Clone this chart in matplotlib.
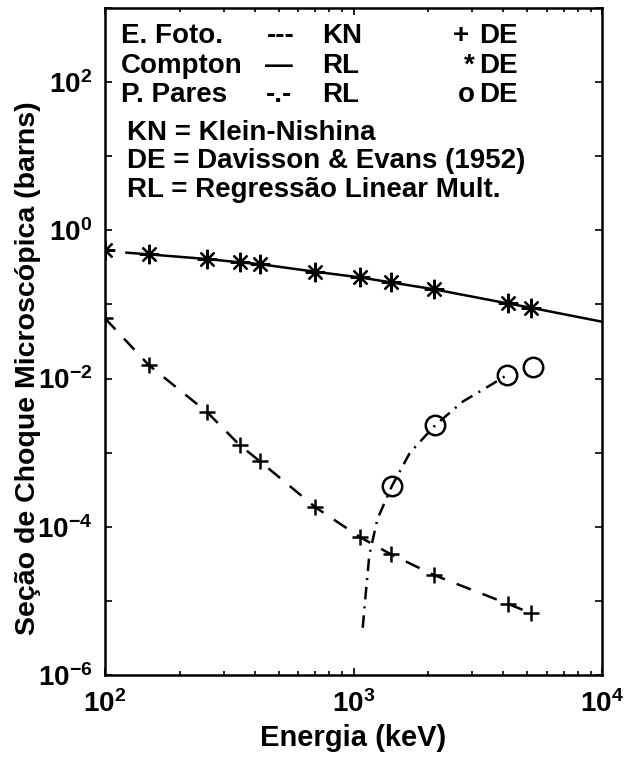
import numpy as np
import matplotlib
matplotlib.use('Agg')
import matplotlib.pyplot as plt
from matplotlib.ticker import FixedLocator, FuncFormatter, LogLocator, NullFormatter

plt.rcParams['font.family'] = ['Liberation Sans', 'DejaVu Sans']
plt.rcParams['font.weight'] = 'bold'
plt.rcParams['mathtext.fontset'] = 'custom'
plt.rcParams['mathtext.rm'] = 'Liberation Sans:bold'
plt.rcParams['mathtext.bf'] = 'Liberation Sans:bold'
plt.rcParams['lines.scale_dashes'] = False

#-----------------------------------------------------------------------------
# Data (energy in keV, cross section in barns)
E_compton = [100, 150, 258, 348, 419, 703, 1059, 1409, 2109, 4188, 5200]
s_compton = [0.54, 0.474, 0.41, 0.37, 0.35, 0.276, 0.232, 0.199, 0.16, 0.103, 0.090]
E_compton_rl = [122, 150, 258, 348, 419, 703, 1059, 1409, 2109, 4188, 5200, 10000]
s_compton_rl = [0.50, 0.474, 0.41, 0.37, 0.35, 0.276, 0.232, 0.199, 0.16, 0.103, 0.090, 0.0585]

E_foto = [100, 150, 258, 348, 419, 703, 1059, 1409, 2109, 4188, 5200]
s_foto = [0.065, 0.0152, 3.5e-3, 1.27e-3, 7.7e-4, 1.83e-4, 7.3e-5, 4.28e-5, 2.23e-5, 9.1e-6, 6.8e-6]

E_pares = [1427, 2133, 4140, 5260]
s_pares = [3.54e-4, 2.35e-3, 0.0111, 0.0144]
E_pares_rl = [1089, 1122, 1158, 1248, 1427, 1687, 2133, 2748, 3654, 4140]
s_pares_rl = [4.34e-6, 1.33e-5, 4.15e-5, 1.27e-4, 3.54e-4, 1.0e-3, 2.35e-3, 4.87e-3, 8.6e-3, 0.0111]
#-----------------------------------------------------------------------------

fig = plt.figure(figsize=(6.44, 7.58), dpi=100)
ax = fig.add_axes([105/644, 83/758, 497/644, 667/758])

ax.plot(E_compton_rl, s_compton_rl, 'k-', lw=1.8)
ax.plot(E_compton, s_compton, 'k', ls='none', marker=(8, 2, 0), ms=14, mew=1.6)

ax.plot(E_foto, s_foto, 'k', lw=1.8, dashes=(11, 9))
ax.plot(E_foto, s_foto, 'k+', ms=12, mew=1.8)

ax.plot(E_pares_rl, s_pares_rl, 'k', lw=1.8, dashes=(9, 5, 1.5, 5))
ax.plot(E_pares, s_pares, 'ko', mfc='none', ms=14, mew=1.8)

ax.set_xscale('log')
ax.set_yscale('log')
ax.set_xlim(1e2, 1e4)
ax.set_ylim(1e-6, 1e3)

ax.yaxis.set_major_locator(FixedLocator([10.0**k for k in range(-6, 4)]))
def ylab(v, pos):
    k = int(round(np.log10(v)))
    if k % 2 == 0 and k < 3:
        return r'$\mathdefault{10^{%d}}$' % k
    return ''
ax.yaxis.set_major_formatter(FuncFormatter(ylab))
ax.yaxis.set_minor_locator(FixedLocator([]))
ax.xaxis.set_minor_locator(LogLocator(base=10, subs=np.arange(2, 10)))
ax.xaxis.set_minor_formatter(NullFormatter())

ax.tick_params('both', which='major', length=5, width=1.2, direction='in', top=True, right=True, labelsize=20, pad=9)
ax.tick_params('x', which='major', pad=11)
ax.tick_params('both', which='minor', length=3, width=1.2, direction='in', top=True, right=True)
for s in ax.spines.values():
    s.set_linewidth(1.8)

ax.set_xlabel('Energia (keV)', fontsize=21, fontweight='bold', labelpad=4)
ax.set_ylabel('Seção de Choque Microscópica (barns)', fontsize=20.5, fontweight='bold', labelpad=-3)
ax.yaxis.label.set_y(0.46)

fs = 20
tr = ax.transAxes
rows = [0.9475, 0.9025, 0.859]
ax.text(0.032, rows[0], 'E. Foto.', transform=tr, fontsize=fs, va='baseline')
ax.text(0.326, rows[0], '---', transform=tr, fontsize=fs, va='baseline')
ax.text(0.437, rows[0], 'KN', transform=tr, fontsize=fs, va='baseline')
ax.text(0.700, rows[0], '+', transform=tr, fontsize=fs, va='baseline')
ax.text(0.753, rows[0], 'DE', transform=tr, fontsize=fs, va='baseline')

ax.text(0.032, rows[1], 'Compton', transform=tr, fontsize=fs, va='baseline')
ax.text(0.322, rows[1], '—', transform=tr, fontsize=fs, va='baseline')
ax.text(0.437, rows[1], 'RL', transform=tr, fontsize=fs, va='baseline')
ax.text(0.722, rows[1], '*', transform=tr, fontsize=fs, va='baseline')
ax.text(0.753, rows[1], 'DE', transform=tr, fontsize=fs, va='baseline')

ax.text(0.032, rows[2], 'P. Pares', transform=tr, fontsize=fs, va='baseline')
ax.text(0.324, rows[2], '-.-', transform=tr, fontsize=fs, va='baseline')
ax.text(0.437, rows[2], 'RL', transform=tr, fontsize=fs, va='baseline')
ax.text(0.710, rows[2], 'o', transform=tr, fontsize=fs, va='baseline')
ax.text(0.753, rows[2], 'DE', transform=tr, fontsize=fs, va='baseline')

ax.text(0.044, 0.802, 'KN = Klein-Nishina', transform=tr, fontsize=fs, va='baseline')
ax.text(0.044, 0.760, 'DE = Davisson & Evans (1952)', transform=tr, fontsize=fs, va='baseline')
ax.text(0.044, 0.7166, 'RL = Regressão Linear Mult.', transform=tr, fontsize=fs, va='baseline')

plt.savefig('out.png', dpi=100)
plt.close()
